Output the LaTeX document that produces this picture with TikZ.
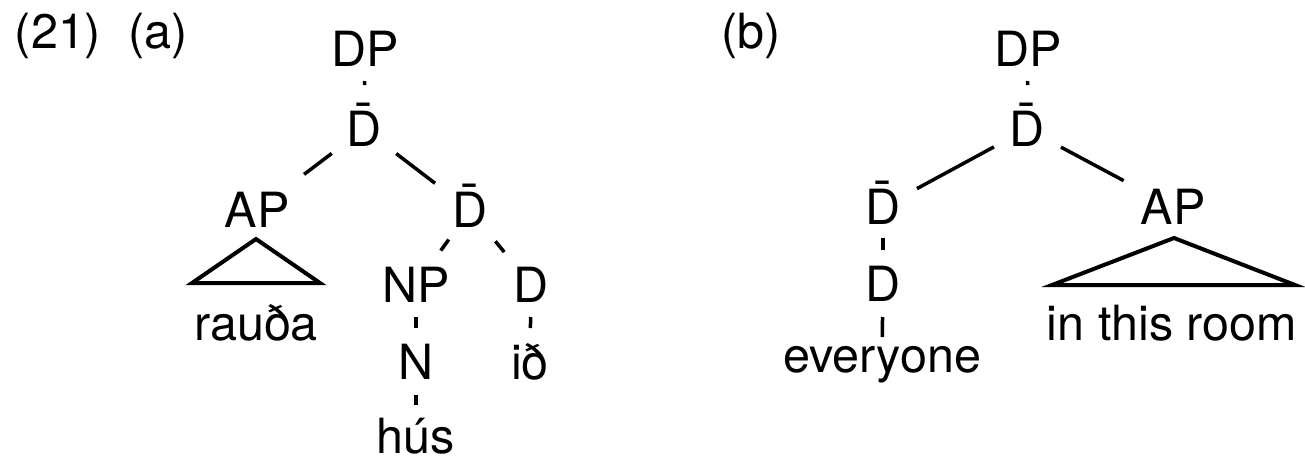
\documentclass[tikz,border=0pt]{standalone}
\usepackage{fontspec}
\setmainfont{TeX Gyre Heros}
\usetikzlibrary{calc}
\newcommand\Dbar{\accent"00AF D}
\newcommand\branch[4]{\draw[branchline] ($(#1)!#3!(#2)$) -- ($(#2)!#4!(#1)$);}
\begin{document}
\begin{tikzpicture}[x=1pt,y=-1pt,
  lab/.style={inner sep=0pt, text height=34pt, text depth=0pt, anchor=center,
    font=\fontsize{48.5}{58}\selectfont},
  branchline/.style={line width=3.5pt},
  roof/.style={line width=4pt, line join=miter}]
\useasboundingbox (0,0) rectangle (1305,459);
% labels
\node[lab] (n21) at (58,31) {(21)};
\node[lab] (na) at (158,31) {(a)};
\node[lab] (nb) at (751,31) {(b)};
% tree a
\node[lab] (aDP) at (365,49) {DP};
\node[lab] (aDb) at (364,129) {\Dbar};
\node[lab] (aAP) at (257,210) {AP};
\node[lab] (aDb2) at (470,210) {\Dbar};
\node[lab] (aNP) at (416,285) {NP};
\node[lab] (aD) at (531,285) {D};
\node[lab] (aN) at (416,362) {N};
\node[lab] (aid) at (530,362) {ið};
\node[lab] (ahus) at (416,436) {hús};
\node[lab] (arauda) at (256,323) {rauða};
\branch{aDP}{aDb}{32pt}{44pt}
\branch{aDb}{aAP}{40.5pt}{59pt}
\branch{aDb}{aDb2}{40.5pt}{44pt}
\branch{aDb2}{aNP}{36.4pt}{42.4pt}
\branch{aDb2}{aD}{40.3pt}{42.4pt}
\branch{aNP}{aN}{32pt}{34pt}
\branch{aD}{aid}{32pt}{34pt}
\branch{aN}{ahus}{33pt}{31pt}
\draw[roof] ($(aAP)+(-1,29)$) -- ($(aAP)+(-65,73)$) -- ($(aAP)+(63,73)$) -- cycle;
% tree b
\node[lab] (bDP) at (1028,49) {DP};
\node[lab] (bDb) at (1027,129) {\Dbar};
\node[lab] (bDbL) at (883,207) {\Dbar};
\node[lab] (bD) at (883,284) {D};
\node[lab] (bevery) at (882,355) {everyone};
\node[lab] (bAP) at (1173,207) {AP};
\node[lab] (broom) at (1172,323) {in this room};
\branch{bDP}{bDb}{32pt}{44pt}
\branch{bDb}{bDbL}{37.6pt}{38.6pt}
\branch{bDb}{bAP}{38.5pt}{56pt}
\branch{bDbL}{bD}{31pt}{34pt}
\branch{bD}{bevery}{33pt}{18pt}
\draw[roof] ($(bAP)+(1,31)$) -- ($(bAP)+(-121,78)$) -- ($(bAP)+(122,78)$) -- cycle;
\end{tikzpicture}
\end{document}
